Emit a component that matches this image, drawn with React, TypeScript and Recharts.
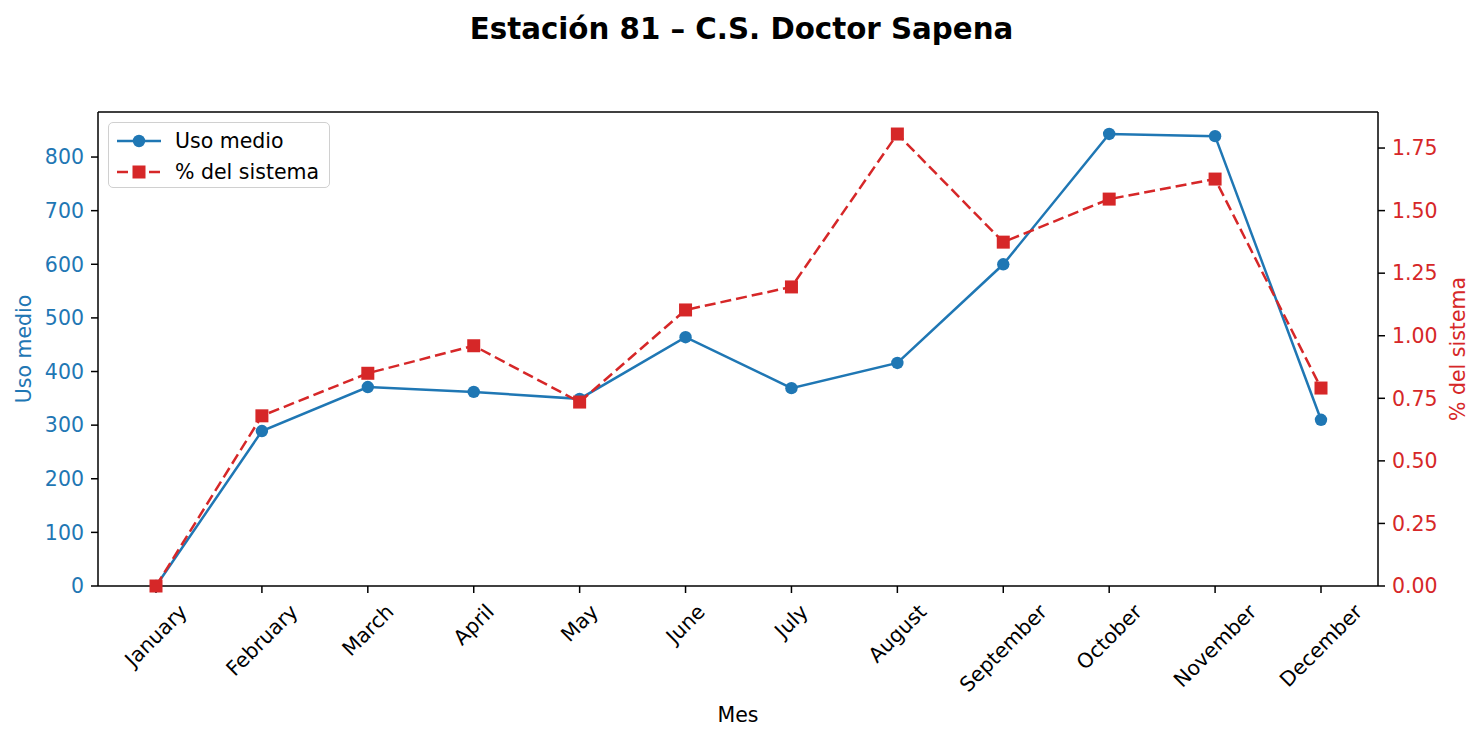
import React from "react";
import { Label, Line, LineChart, ReferenceLine, XAxis, YAxis } from "recharts";

const months = [
  "January", "February", "March", "April", "May", "June",
  "July", "August", "September", "October", "November", "December",
];
const usoMedio = [0, 289, 371, 362, 349, 464, 369, 416, 600, 843, 839, 310];
const pctSistema = [0, 0.68, 0.85, 0.96, 0.735, 1.103, 1.195, 1.806, 1.374, 1.546, 1.626, 0.791];
const leftTicks = [0, 100, 200, 300, 400, 500, 600, 700, 800];
const rightTicks = [0, 0.25, 0.5, 0.75, 1, 1.25, 1.5, 1.75];
const leftMax = 884;
const rightMax = 1.894;

const BLUE = "#1f77b4";
const RED = "#d62728";
const FONT = "'DejaVu Sans', sans-serif";
const FS = 20.5;

const data = months.map((m, i) => ({ month: m, uso: usoMedio[i], pct: pctSistema[i] }));

let ctx: CanvasRenderingContext2D | null = null;
function textWidth(s: string, px: number) {
  if (!ctx) ctx = document.createElement("canvas").getContext("2d");
  if (!ctx) return s.length * px * 0.6;
  ctx.font = `${px}px 'DejaVu Sans'`;
  return ctx.measureText(s).width;
}

// matplotlib-style rotated label: rotate, then center the bbox under the tick
function MonthTick(props: any) {
  const { x, y, payload } = props;
  const w = textWidth(payload.value, FS);
  const h = 23;
  const boxH = (w + h) * Math.SQRT1_2;
  const cy = y + boxH / 2;
  return (
    <text
      x={x}
      y={cy}
      textAnchor="middle"
      dominantBaseline="central"
      fontSize={FS}
      fontFamily={FONT}
      fill="#000"
      transform={`rotate(-45 ${x} ${cy})`}
    >
      {payload.value}
    </text>
  );
}

function SquareDot(props: any) {
  const { cx, cy, index } = props;
  return <rect key={index} x={cx - 6.5} y={cy - 6.5} width={13} height={13} fill={RED} />;
}

function AxisTitle({ viewBox, value, dx, color }: any) {
  const cx = viewBox.x + dx;
  const cy = viewBox.y + viewBox.height / 2;
  return (
    <text
      x={cx}
      y={cy}
      textAnchor="middle"
      dominantBaseline="central"
      fontSize={FS}
      fontFamily={FONT}
      fill={color}
      transform={`rotate(-90 ${cx} ${cy})`}
    >
      {value}
    </text>
  );
}

function LegendBox() {
  const row = (label: string, color: string, dashed: boolean) => (
    <div style={{ display: "flex", alignItems: "center", height: 31 }}>
      <svg width={44} height={20} style={{ marginRight: 14 }}>
        <line
          x1={0}
          y1={10}
          x2={44}
          y2={10}
          stroke={color}
          strokeWidth={2.5}
          strokeDasharray={dashed ? "11 5" : undefined}
        />
        {dashed ? (
          <rect x={15.5} y={3.5} width={13} height={13} fill={color} />
        ) : (
          <circle cx={22} cy={10} r={6.2} fill={color} />
        )}
      </svg>
      <span>{label}</span>
    </div>
  );
  return (
    <div
      style={{
        position: "absolute",
        top: 122,
        left: 108,
        boxSizing: "border-box",
        width: 222,
        height: 66,
        padding: "2px 8px",
        border: "1.5px solid #d0d0d0",
        borderRadius: 5,
        background: "rgba(255,255,255,0.85)",
        fontFamily: FONT,
        fontSize: FS,
        color: "#000",
      }}
    >
      {row("Uso medio", BLUE, false)}
      {row("% del sistema", RED, true)}
    </div>
  );
}

export default function App() {
  return (
    <div style={{ position: "absolute", left: 0, top: 0, width: 1483, height: 740, background: "#fff" }}>
      <div
        style={{
          position: "absolute",
          top: 12,
          left: 0,
          width: 1483,
          textAlign: "center",
          fontFamily: FONT,
          fontWeight: "bold",
          fontSize: 29.3,
          color: "#000",
        }}
      >
        Estación 81 – C.S. Doctor Sapena
      </div>
      <LineChart
        width={1483}
        height={740}
        data={data}
        margin={{ top: 112, right: 0, bottom: 34, left: 0 }}
      >
        <XAxis
          dataKey="month"
          padding={{ left: 58, right: 57 }}
          height={120}
          interval={0}
          tickSize={7}
          tickMargin={7}
          tick={<MonthTick />}
          axisLine={{ stroke: "#000", strokeWidth: 1.5 }}
          tickLine={{ stroke: "#000", strokeWidth: 1.5 }}
        >
          <Label
            content={(p: any) => (
              <text
                x={p.viewBox.x + p.viewBox.width / 2}
                y={p.viewBox.y + 129}
                textAnchor="middle"
                dominantBaseline="central"
                fontSize={FS}
                fontFamily={FONT}
                fill="#000"
              >
                Mes
              </text>
            )}
          />
        </XAxis>
        <YAxis
          yAxisId="left"
          width={98}
          domain={[0, leftMax]}
          ticks={leftTicks}
          tickSize={7}
          tickMargin={7}
          tick={{ fill: BLUE, fontSize: FS, fontFamily: FONT }}
          axisLine={{ stroke: "#000", strokeWidth: 1.5 }}
          tickLine={{ stroke: "#000", strokeWidth: 1.5 }}
        >
          <Label content={(p: any) => <AxisTitle {...p} value="Uso medio" dx={24} color={BLUE} />} />
        </YAxis>
        <YAxis
          yAxisId="right"
          orientation="right"
          width={105}
          domain={[0, rightMax]}
          ticks={rightTicks}
          tickFormatter={(v: number) => v.toFixed(2)}
          tickSize={7}
          tickMargin={7}
          tick={{ fill: RED, fontSize: FS, fontFamily: FONT }}
          axisLine={{ stroke: "#000", strokeWidth: 1.5 }}
          tickLine={{ stroke: "#000", strokeWidth: 1.5 }}
        >
          <Label content={(p: any) => <AxisTitle {...p} value="% del sistema" dx={80} color={RED} />} />
        </YAxis>
        {/* top spine */}
        <ReferenceLine yAxisId="left" y={leftMax} stroke="#000" strokeWidth={1.5} />
        <Line
          yAxisId="left"
          dataKey="uso"
          name="Uso medio"
          stroke={BLUE}
          strokeWidth={2.5}
          dot={{ r: 6.2, fill: BLUE, stroke: BLUE, strokeWidth: 0 }}
          activeDot={false}
          isAnimationActive={false}
        />
        <Line
          yAxisId="right"
          dataKey="pct"
          name="% del sistema"
          stroke={RED}
          strokeWidth={2.5}
          strokeDasharray="11 5"
          dot={<SquareDot />}
          activeDot={false}
          isAnimationActive={false}
        />
      </LineChart>
      <LegendBox />
    </div>
  );
}
